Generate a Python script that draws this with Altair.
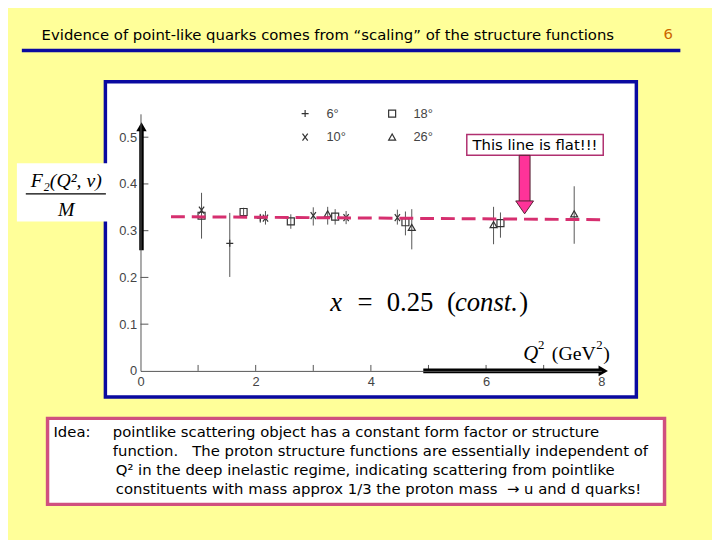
import altair as alt
import pandas as pd

# ---------------- data ----------------
angle = ["18°", "10°", "6°", "18°", "6°", "10°", "18°", "10°", "26°",
         "18°", "10°", "10°", "18°", "26°", "26°", "18°", "26°"]
q2 = [1.06, 1.06, 1.55, 1.79, 2.08, 2.17, 2.61, 3.00, 3.25,
      3.38, 3.57, 4.46, 4.60, 4.71, 6.13, 6.25, 7.53]
f2 = [0.332, 0.344, 0.273, 0.340, 0.327, 0.327, 0.320, 0.332, 0.336,
      0.330, 0.328, 0.328, 0.318, 0.307, 0.313, 0.316, 0.336]
err_lo = [0.283, 0.335, 0.201, 0.332, 0.317, 0.313, 0.304, 0.311, 0.313,
          0.313, 0.314, 0.313, 0.290, 0.260, 0.271, 0.285, 0.272]
err_hi = [0.381, 0.354, 0.338, 0.349, 0.336, 0.342, 0.335, 0.350, 0.351,
          0.346, 0.342, 0.345, 0.341, 0.346, 0.351, 0.339, 0.395]

legend_order = ["6°", "10°", "18°", "26°"]
flat_q2 = [0.53, 8.08]
flat_f2 = [0.330, 0.3235]

x_tick_labels = [0, 2, 4, 6, 8]
x_minor_ticks = [1, 2, 3, 4, 5, 6, 7]
y_tick_labels = [0, 0.1, 0.2, 0.3, 0.4, 0.5]
y_minor_ticks = [0.1, 0.2, 0.3, 0.4, 0.5]

title_text = "Evidence of point-like quarks comes from \u201cscaling\u201d of the structure functions"
page_number = "6"
callout_text = "This line is flat!!!"
idea_label = "Idea:"
idea_lines = [
    "pointlike scattering object has a constant form factor or structure",
    "function.\u00a0\u00a0 The proton structure functions are essentially independent of",
    "Q\u00b2 in the deep inelastic regime, indicating scattering from pointlike",
    "constituents with mass approx 1/3 the proton mass\u00a0 \u2192 u and d quarks!",
]

# ---------------- layout helpers ----------------
OX, OY = 142, 112          # page position of the plot origin (top-left of plot area)
W, H = 466, 260
SLIDE_FONT = "DejaVu Sans"
SERIF = "Liberation Serif"
SCAN_FONT = "Liberation Sans"
YELLOW = "#FFFF99"
BLUE = "#0A0AA0"
PINK = "#D62F6F"

one = pd.DataFrame({"k": [0]})


def vx(p):
    return alt.value(p - OX)


def vy(p):
    return alt.value(p - OY)


def txt(s, px, py, size=13, font=SLIDE_FONT, color="black", align="left",
        style="normal", baseline="middle"):
    return alt.Chart(one).mark_text(
        text=s, fontSize=size, font=font, color=color, align=align,
        baseline=baseline, fontStyle=style
    ).encode(x=vx(px), y=vy(py))


def rect(x0, y0, x1, y1, fill, stroke="transparent", sw=0):
    return alt.Chart(one).mark_rect(fill=fill, stroke=stroke, strokeWidth=sw).encode(
        x=vx(x0), x2=vx(x1), y=vy(y0), y2=vy(y1))


def rule(x0, y0, x1, y1, color, sw):
    return alt.Chart(one).mark_rule(color=color, strokeWidth=sw).encode(
        x=vx(x0), x2=vx(x1), y=vy(y0), y2=vy(y1))


def sym(px, py, shape, size, fill, stroke="transparent", sw=0):
    return alt.Chart(one).mark_point(
        shape=shape, size=size, filled=True, fill=fill, stroke=stroke,
        strokeWidth=sw, opacity=1
    ).encode(x=vx(px), y=vy(py))


XS = alt.Scale(domain=[0, 8], nice=False, zero=False)
YS = alt.Scale(domain=[0, 0.55], nice=False, zero=True)
XAX = alt.Axis(title="", values=x_tick_labels, grid=False, ticks=False,
               labelPadding=5, labelFlush=False, domainColor="#555",
               labelColor="#444", labelFont=SCAN_FONT, labelFontSize=13, zindex=1)
YAX = alt.Axis(title="", values=y_tick_labels, grid=False, ticks=False,
               labelPadding=4, labelFlush=False, domainColor="#555",
               labelColor="#444", labelFont=SCAN_FONT, labelFontSize=13, zindex=1,
               labelExpr="datum.value == 0 ? '0' : format(datum.value, '.1f')")


def X(field):
    return alt.X(field, type="quantitative", scale=XS, axis=XAX)


def Y(field):
    return alt.Y(field, type="quantitative", scale=YS, axis=YAX)


df = pd.DataFrame({"angle": angle, "q2": q2, "f2": f2, "lo": err_lo, "hi": err_hi})
flat = pd.DataFrame({"q2": flat_q2, "f2": flat_f2})
xt = pd.DataFrame({"q2": x_minor_ticks})
yt = pd.DataFrame({"f2": y_minor_ticks})

PLUS = "M-1,0L1,0M0,-1L0,1"
CROSS = "M-0.75,-1L0.75,1M-0.75,1L0.75,-1"

layers = []
# scanned figure frame
layers.append(rect(106.5, 79.5, 643.5, 398.5, "white", BLUE, 3.5))
# F2/M label box
layers.append(rect(17, 162, 110, 221, "white"))
layers.append(rule(26, 193, 107, 193, "black", 1.2))
layers.append(txt("F\u2082(Q\u00b2, \u03bd)", 67, 180, size=20, font=SERIF, style="italic", align="center"))
layers.append(txt("M", 67, 209, size=20, font=SERIF, style="italic", align="center"))

# inward ticks of the scanned axes
layers.append(alt.Chart(xt).mark_rule(color="#555", strokeWidth=1).encode(
    x=X("q2"), y=alt.value(H - 6), y2=alt.value(H)))
layers.append(alt.Chart(yt).mark_rule(color="#555", strokeWidth=1).encode(
    y=Y("f2"), x=alt.value(0), x2=alt.value(8)))

# error bars and points
layers.append(alt.Chart(df).mark_rule(color="#555", strokeWidth=1).encode(
    x=X("q2"), y=Y("lo"), y2="hi"))
layers.append(alt.Chart(df).mark_point(filled=False, color="#333", strokeWidth=1.2,
                                       size=50, opacity=1).encode(
    x=X("q2"), y=Y("f2"),
    shape=alt.Shape("angle:N",
                    scale=alt.Scale(domain=legend_order,
                                    range=[PLUS, CROSS, "square", "triangle-up"]),
                    legend=alt.Legend(title=None, orient="none", legendX=160, legendY=-7,
                                      columns=2, columnPadding=40, rowPadding=10,
                                      padding=0, labelOffset=15, labelFont=SCAN_FONT,
                                      labelFontSize=13, labelColor="#444",
                                      symbolSize=50, symbolStrokeColor="#333",
                                      symbolStrokeWidth=1.2))))

# the flat dashed line
layers.append(alt.Chart(flat).mark_line(color=PINK, strokeWidth=3, strokeDash=[14, 7]).encode(
    x=X("q2"), y=Y("f2")))

# thick black arrows along the axes
layers.append(rule(143, 250, 143, 128, "black", 4.5))
layers.append(sym(143, 125, "triangle-up", 110, "black"))
layers.append(rule(428, 372, 606, 372, "black", 5))
layers.append(sym(610, 372, "triangle-right", 120, "black"))

# callout
layers.append(rect(472, 133, 610, 154, "white", "#B03070", 1.5))
layers.append(txt(callout_text, 541, 143.5, size=15, align="center"))
layers.append(rect(525, 154, 536, 201, "#FF3399", "#552233", 1))
layers.append(sym(530.5, 205.5, "M-1,-0.6L1,-0.6L0,0.85Z", 324, "#FF3399", "#552233", 1))

# x = 0.25 (const.)
layers.append(txt("x", 334, 303, size=27, font=SERIF, style="italic"))
layers.append(txt("=", 369, 303, size=27, font=SERIF, align="center"))
layers.append(txt("0.25", 391, 303, size=27, font=SERIF))
layers.append(txt("(", 452, 303, size=27, font=SERIF))
layers.append(txt("const.", 460, 303, size=27, font=SERIF, style="italic"))
layers.append(txt(")", 525, 303, size=27, font=SERIF))

# Q^2 (GeV^2)
layers.append(txt("Q", 529, 355, size=21, font=SERIF, style="italic"))
layers.append(txt("2", 544, 346, size=13, font=SERIF))
layers.append(txt("(GeV", 558, 355, size=20, font=SERIF))
layers.append(txt("2", 603, 346, size=13, font=SERIF))
layers.append(txt(")", 610, 355, size=20, font=SERIF))

# slide title
layers.append(txt(title_text, 42, 32, size=15))
layers.append(rule(22, 48, 688, 48, BLUE, 3.5))
layers.append(txt(page_number, 671, 31, size=15, color="#CC6600"))

# Idea box
layers.append(rect(48, 420, 672, 507, "white", "#D0507F", 3.5))
layers.append(txt(idea_label, 54, 434, size=15))
for i, line in enumerate(idea_lines):
    layers.append(txt(line, 114 if i < 2 else 117, 434 + i * 19, size=15))

chart = alt.layer(*layers).properties(
    width=W, height=H,
    padding={"left": OX - 8, "top": OY - 8, "right": 712 - (OX - 8) - W,
             "bottom": 532 - (OY - 8) - H},
    autosize=alt.AutoSizeParams(type="none"),
    background=YELLOW,
).configure_view(strokeOpacity=0)

chart.save("out.html", embed_options={"renderer": "svg", "actions": False})
